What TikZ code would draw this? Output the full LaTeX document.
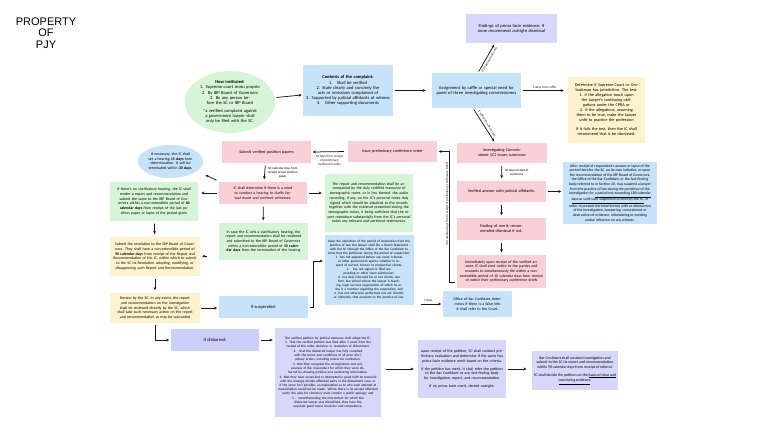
\documentclass[tikz,border=0pt]{standalone}
\usepackage{fontspec}
\setmainfont{Carlito}
\newfontfamily\stampfont{Liberation Sans}
\usetikzlibrary{arrows.meta,positioning,calc,shapes.geometric}
\definecolor{pinkfill}{RGB}{250,208,214}
\definecolor{bluefill}{RGB}{199,227,250}
\definecolor{greenfill}{RGB}{214,245,214}
\definecolor{yellowfill}{RGB}{255,242,204}
\definecolor{lilacfill}{RGB}{214,215,251}
\definecolor{lilacdark}{RGB}{204,207,250}
\definecolor{inkline}{RGB}{25,25,25}
\tikzset{
  card/.style   ={rectangle,inner xsep=2pt,inner ysep=1pt,align=center},
  pinkc/.style  ={card,fill=pinkfill},
  bluec/.style  ={card,fill=bluefill},
  greenc/.style ={card,fill=greenfill},
  yellowc/.style={card,fill=yellowfill},
  lilacc/.style ={card,fill=lilacfill},
  oval/.style   ={ellipse,inner sep=0pt,align=center},
  big/.style    ={font=\fontsize{4.5}{5.1}\selectfont},
  mid/.style    ={font=\fontsize{3.9}{4.7}\selectfont},
  small/.style  ={font=\fontsize{3.4}{4}\selectfont},
  wh/.style 2 args={minimum width=#1pt,minimum height=#2pt},
  tw/.style     ={text width=#1pt},
  arr/.style    ={-{Stealth[length=3.2pt,width=2.8pt]},line width=0.75pt,inkline,shorten >=1.5pt,shorten <=1.5pt},
  note/.style   ={font=\fontsize{3.3}{3.9}\selectfont,align=center,inner sep=0.8pt},
}
\begin{document}
\begin{tikzpicture}[x=1pt,y=-1pt]
\useasboundingbox (0,0) rectangle (768,433);

\node[font=\stampfont\fontsize{11}{11.7}\selectfont,align=center] (stamp) at (46,33) {PROPERTY\\OF\\PJY};

% filing
\node[oval,big,fill=greenfill,tw=64,wh={90}{62}] (howinst) at (230,102)
  {{\bfseries How instituted:}\\1. Supreme court motu proprio\\2. By IBP Board of Governors\\3. By any person before the SC or IBP Board\\[3pt]*a verified complaint against a government lawyer shall only be filed with the SC.};
\node[bluec,big,tw=86,wh={90}{51}] (contents) at (348,90.5)
  {{\bfseries Contents of the complaint:}\\1.\quad Shall be verified\\2. State clearly and concisely the acts or omissions complained of\\3. Supported by judicial affidavits of witness\\4.\quad Other supporting documents};
\node[bluec,big,tw=85,wh={89}{35}] (assign) at (476.5,90.5)
  {Assignment by raffle or special need for panel of three investigating commissioners};
\node[lilacc,big,tw=85,wh={91}{29}] (findings) at (511.5,28.5)
  {Findings of prima facie evidence; if none recommend outright dismissal};
\node[yellowc,font=\fontsize{4.2}{5}\selectfont,tw=73,wh={77}{66}] (determine) at (606.5,110)
  {Determine if Supreme Court or Ombudsman has jurisdiction. The test:\\1. if the allegation touch upon the lawyer's continuing obligations under the CPRA or\\2. if the allegations, assuming them to be true, make the lawyer unfit to practice the profession\\[4pt]If it fails the test, then the IC shall recommend that it be dismissed.};

% IC proceedings
\node[pinkc,font=\fontsize{4.2}{5}\selectfont,tw=80,wh={90}{20}] (icsum) at (502,153)
  {Investigating Commissioner (IC) issues summons};
\node[pinkc,font=\fontsize{4.2}{5}\selectfont,tw=84,wh={89}{21}] (prelim) at (392.5,151.5)
  {Issue preliminary conference order};
\node[pinkc,font=\fontsize{4.2}{5}\selectfont,tw=84,wh={89}{22}] (position) at (266.5,152)
  {Submit verified position papers};
\node[pinkc,mid,tw=84,wh={88}{22}] (icdet) at (263,193)
  {IC shall determine if there is a need to conduct a hearing to clarify factual issues and confront witnesses.};
\node[oval,mid,fill=bluefill,tw=46,wh={65}{33}] (necessary) at (170.5,161.5)
  {If necessary, the IC shall set a hearing {\bfseries 15 days} from determination. It will be terminated within {\bfseries 30 days}.};
\node[greenc,mid,tw=84,wh={88}{39}] (nohearing) at (154,201.5)
  {If there's no clarificatory hearing, the IC shall render a report and recommendation and submit the same to the IBP Board of Governors within a non-extendible period of {\bfseries 60 calendar days} from receipt of the last position paper or lapse of the period given};
\node[yellowc,mid,tw=86,wh={90}{39}] (resolution) at (155,256.5)
  {Submit the resolution to the IBP Board of Governors. They shall have a non-extendible period of {\bfseries 90 calendar days} from receipt of the Report and Recommendation of the IC, within which to submit to the SC its Resolution adopting, modifying, or disapproving such Report and Recommendation.};
\node[yellowc,mid,tw=86,wh={90}{30}] (review) at (155,308)
  {Review by the SC. In any event, the report and recommendation on the investigation shall be reviewed directly by the SC, which shall take such necessary action on the report and recommendation as may be warranted};
\node[greenc,mid,tw=85,wh={89}{37}] (sethearing) at (263.5,241.5)
  {In case the IC sets a clarificatory hearing, the report and recommendation shall be rendered and submitted to the IBP Board of Governors within a non-extendible period of {\bfseries 30 calendar days} from the termination of the hearing};
\node[greenc,mid,tw=84,wh={88}{58}] (report) at (369,203)
  {The report and recommendation shall be accompanied by the duly certified transcript of stenographic notes, or in lieu thereof, the audio recording, if any, on the IC's personal notes duly signed which should be attached to the records together with the evidence presented during the stenographic notes, it being sufficient that the report reproduce substantially from the IC's personal notes any relevant and pertinent testimonies.};
\node[pinkc,font=\fontsize{4.2}{5}\selectfont,tw=84,wh={89}{21}] (answer) at (501.5,191.5)
  {Verified answer with judicial affidavits.};
\node[pinkc,font=\fontsize{4.2}{5}\selectfont,tw=76,wh={89}{22}] (merit) at (501.5,229)
  {Finding of merit; recommended dismissal if not.};
\node[pinkc,mid,tw=84,wh={89}{33}] (notice) at (501.5,271.5)
  {Immediately upon receipt of the verified answer, IC shall send notice to the parties and counsels to simultaneously file within a non-extendible period of 10 calendar days from receipt of notice their preliminary conference briefs};
\node[bluec,font=\fontsize{3.8}{4.6}\selectfont,wh={94}{62}] (interim) at (610,193)
  {After receipt of respondent's answer or lapse of the\\period therefor, the SC, on its own initiative, or upon\\the recommendation of the IBP Board of Governors,\\the Office of the Bar Confidant, or the fact-finding\\body referred to in Section 20, may suspend a lawyer\\from the practice of law during the pendency of the\\investigation for \underline{a period not exceeding 180 calendar}\\\underline{days or until such suspension is lifted by the SC}, in\\order to prevent the interference with or obstruction\\of the investigation, tampering, concealment or\\destruction of evidence, intimidating or exerting\\undue influence on any witness.};

% outcomes
\node[bluec,font=\fontsize{4.6}{5.4}\selectfont,wh={89}{22}] (suspended) at (263.5,307) {If suspended:};
\node[card,fill=lilacdark,font=\fontsize{4.6}{5.4}\selectfont,wh={88}{22}] (disbarred) at (215,340) {If disbarred:};
\node[bluec,small,tw=85,wh={88}{70}] (expiration) at (369,270)
  {Upon the expiration of the period of suspension from the practice of law, the lawyer shall file a Sworn Statement with the SC through the Office of the Bar Confidant to show that the petitioner during the period of suspension:\\
  1. has not appeared before any court, tribunal or other government agency whether in respect of current, former or prospective clients;\\
  2.\quad has not signed or filed any pleading or other court submission;\\
  3. has duly informed his or her clients, law firm, law school where the lawyer is teaching, legal services organization of which he or she is a member regarding the suspension; and\\
  4. has not otherwise performed any act, directly or indirectly, that amounts to the practice of law.};
\node[bluec,mid,tw=62,wh={69}{26}] (office) at (477.5,304)
  {Office of Bar Confidant determines if there is a false info it shall refer to the Court.};
\node[lilacc,small,tw=100,wh={106}{89}] (clemency) at (328,372.5)
  {The verified petition for judicial clemency shall allege the ff.:\\
  1. That the verified petition was filed after 5 years from the receipt of the order, decision, or resolution of disbarment.\\[1pt]
  2.\quad that the disbarred lawyer has fully complied with the terms and conditions of all prior disciplinary orders, including orders for restitution.\\[1pt]
  3. that they recognize the wrongfulness and seriousness of the misconduct for which they were disbarred by showing positive acts evidencing reformation.\\[1pt]
  4. that they have reconciled or attempted in good faith to reconcile with the wrongly private offended party in the disbarment case, or if the same isn't possible, an explanation as to why such attempt at reconciliation could not be made. Where there is no private offended party, the plea for clemency must contain a public apology; and\\[1pt]
  5.\quad notwithstanding the misconduct for which the disbarred lawyer was disciplined, they have the requisite good moral character and competence.};
\node[lilacc,mid,tw=84,wh={88}{58}] (evaluation) at (462,369)
  {upon receipt of the petition, SC shall conduct preliminary evaluation and determine if the same has prima facie evidence merit based on the criteria.\\[3pt]
  If the petition has merit, it shall refer the petition to the Bar Confidant or any fact-finding body for investigation, report, and recommendation.\\[3pt]
  If no prima facie merit, denied outright.};
\node[lilacc,mid,wh={86}{39}] (investigation) at (575,370.5)
  {Bar Confidant shall conduct investigation and\\submit to the SC its report and recommendation\\within 90 calendar days from receipt of referral.\\[3pt]
  SC shall decide the petition on the \underline{basis of clear and}\\\underline{convincing evidence}.};

% connectors
\draw[arr,shorten >=1pt] (howinst) -- (contents);
\draw[arr,shorten >=6pt] (contents) -- (assign);
\draw[arr] ([xshift=1.5pt]assign.north) -- ([xshift=-16.5pt]findings.south)
  node[note,midway,sloped,below=1pt] {If no prima facie case};
\draw[arr] ([xshift=-3.5pt]assign.south) -- ([xshift=-7pt]icsum.north)
  node[note,midway,sloped,above=1pt] {If with prima facie case};
\draw[arr,shorten >=4pt] (assign.east) -- (assign.east -| determine.west)
  node[note,midway,above] {5 days from raffle};
\foreach \a/\b in {icsum/answer,answer/merit,merit/notice,position/icdet,icdet/sethearing,nohearing/resolution,resolution/review}
  \draw[arr,shorten >=2.5pt,shorten <=2.5pt] (\a) -- (\b);
\node[note,right=2pt of $(icsum.south)!0.5!(answer.north)$] (sumnote) {30 days receipt of\\summons};
\node[note,right=2pt of $(position.south)!0.5!(icdet.north)$] (papernote) {30 calendar days from\\receipt of last position\\paper};
\draw[arr] (answer.east) -- (answer.east -| interim.west);
\draw[arr] ([yshift=6pt]notice.south west) -- ++(-7,0) |- (prelim.east)
  node[note,pos=0.3,rotate=90,above] {30 calendar days from receipt of preliminary conference briefs};
\draw[arr,shorten <=4pt] (prelim.west) -- (position.east)
  node[note,midway,below=2pt] {10 days from receipt\\of preliminary\\conference order};
\draw[arr,shorten >=9pt] ([shift={(-1pt,1pt)}]icdet.north west) -- (necessary.-20);
\draw[arr,shorten >=3pt] (icdet.west) -- (icdet.west -| nohearing.east);
\draw[arr,shorten >=3pt] (icdet.east) -- (icdet.east -| report.west);
\draw[arr,shorten >=2pt,shorten <=12pt] ([yshift=4pt]sethearing.south west) coordinate (sh) -- (sh -| resolution.east);
\draw[arr,shorten <=1pt] (review.east) -- (review.east -| suspended.west);
\draw[arr] (review.south) |- (disbarred.west);
\draw[arr] (suspended.east) -- ++(5,0) |- ([yshift=9pt]expiration.west);
\draw[arr,shorten <=7pt] (office.west -| expiration.east) -- (office.west)
  node[note,midway,above=1pt] {5 days};
\draw[arr,shorten >=2pt] (disbarred.east) -- (disbarred.east -| clemency.west);
\draw[arr,shorten <=5pt,shorten >=4pt] (evaluation.west -| clemency.east) -- (evaluation.west);
\draw[arr,shorten >=5pt] (evaluation.east) -- (evaluation.east -| investigation.west);
\end{tikzpicture}
\end{document}
